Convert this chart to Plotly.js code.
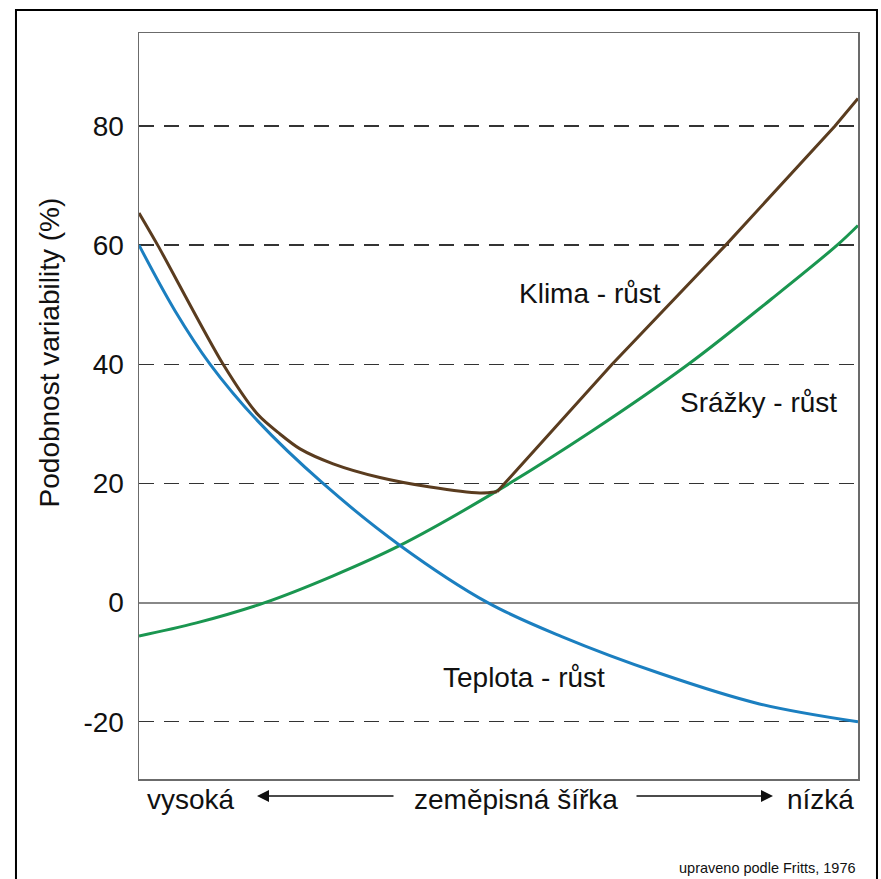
<!DOCTYPE html>
<html>
<head>
<meta charset="utf-8">
<script src="https://cdn.plot.ly/plotly-3.0.1.min.js"></script>
<style>
html,body{margin:0;padding:0;background:#fff;}
#chart{width:881px;height:879px;}
</style>
</head>
<body>
<div id="chart"></div>
<script>
// latitude position (0 = high latitude, 1 = low latitude)
var xTeplota = [0, 0.05, 0.099, 0.165, 0.256, 0.363, 0.485, 0.588, 0.725, 0.863, 1];
var teplota  = [60, 49.0, 40, 30.5, 20, 9.6, 0, -5.7, -11.9, -17.0, -20];

var xSrazky = [0, 0.08, 0.175, 0.27, 0.363, 0.498, 0.63, 0.764, 0.88, 0.971, 1];
var srazky  = [-5.6, -3.4, 0, 4.5, 9.6, 18.75, 28.8, 40, 51, 60, 63.3];

var xKlimaA = [0, 0.026, 0.117, 0.165, 0.196, 0.224, 0.27, 0.335, 0.405, 0.474, 0.498];
var klimaA  = [65.4, 60, 40, 31.6, 28.3, 25.8, 23.3, 21, 19.4, 18.4, 18.6];
var xKlimaB = [0.498, 0.658, 0.816, 0.968, 1];
var klimaB  = [18.6, 40, 60, 80, 84.6];

var yTicks = [-20, 0, 20, 40, 60, 80];
var yTickText = ['-20', '0', '20', '40', '60', '80'];

var labels = [
  {text: 'Klima - růst', x: 0.627, y: 51.8},
  {text: 'Srážky - růst', x: 0.861, y: 33.6},
  {text: 'Teplota - růst', x: 0.535, y: -12.5}
];

var cBlue = '#1b7fc0', cGreen = '#1a9650', cBrown = '#5a3c1f';
var font = 'Liberation Sans, Arial, sans-serif';
var fs = 28;

var traces = [
  {x: xSrazky, y: srazky, mode: 'lines', line: {color: cGreen, width: 3, shape: 'spline'}, name: 'Srážky - růst'},
  {x: xTeplota, y: teplota, mode: 'lines', line: {color: cBlue, width: 3, shape: 'spline'}, name: 'Teplota - růst'},
  {x: xKlimaA, y: klimaA, mode: 'lines', line: {color: cBrown, width: 3, shape: 'spline', smoothing: 0.8}, name: 'Klima - růst'},
  {x: xKlimaB, y: klimaB, mode: 'lines', line: {color: cBrown, width: 3}, name: 'Klima - růst'}
];

var annotations = labels.map(function(l){
  return {text: l.text, x: l.x, y: l.y, xref: 'x', yref: 'y', showarrow: false,
          font: {family: font, size: fs, color: '#111'}, xanchor: 'center', yanchor: 'middle'};
});

var rowY = -0.028;
annotations.push(
  {text: 'Podobnost variability (%)', xref: 'paper', yref: 'paper', x: -0.125, y: 0.572,
   textangle: -90, showarrow: false, font: {family: font, size: fs, color: '#111'}, xanchor: 'center', yanchor: 'middle'},
  {text: 'vysoká', xref: 'paper', yref: 'paper', x: (145-139)/719, y: rowY, showarrow: false,
   font: {family: font, size: fs, color: '#111'}, xanchor: 'left', yanchor: 'middle'},
  {text: 'zeměpisná šířka', xref: 'paper', yref: 'paper', x: (412-139)/719, y: rowY, showarrow: false,
   font: {family: font, size: fs, color: '#111'}, xanchor: 'left', yanchor: 'middle'},
  {text: 'nízká', xref: 'paper', yref: 'paper', x: (856-139)/719, y: rowY, showarrow: false,
   font: {family: font, size: fs, color: '#111'}, xanchor: 'right', yanchor: 'middle'},
  {text: '', xref: 'paper', yref: 'paper', x: (257-139)/719, y: -0.0228, ax: 138, ay: 0,
   showarrow: true, arrowhead: 2, arrowsize: 1.6, arrowwidth: 1.5, arrowcolor: '#111', standoff: 0},
  {text: '', xref: 'paper', yref: 'paper', x: (773-139)/719, y: -0.0228, ax: -138, ay: 0,
   showarrow: true, arrowhead: 2, arrowsize: 1.6, arrowwidth: 1.5, arrowcolor: '#111', standoff: 0},
  {text: 'upraveno podle Fritts, 1976', xref: 'paper', yref: 'paper', x: 1, y: (779-868)/746, showarrow: false,
   font: {family: font, size: 14.5, color: '#111'}, xanchor: 'right', yanchor: 'middle'}
);

var layout = {
  width: 881, height: 879,
  margin: {l: 139, r: 23, t: 33, b: 100},
  paper_bgcolor: '#fff', plot_bgcolor: '#fff',
  showlegend: false,
  font: {family: font, size: fs, color: '#111'},
  xaxis: {range: [0, 1], showticklabels: false, ticks: '', showgrid: false, zeroline: false,
          showline: true, mirror: true, linecolor: '#6b6b6b', linewidth: 1.5, fixedrange: true},
  yaxis: {range: [-29.6, 95.6], tickvals: yTicks, ticktext: yTickText,
          ticks: 'outside', ticklen: 8, tickcolor: 'rgba(0,0,0,0)',
          tickfont: {family: font, size: fs, color: '#111'},
          showgrid: true, gridcolor: '#333', gridwidth: 1.4, griddash: '15px,10px',
          zeroline: true, zerolinecolor: '#888', zerolinewidth: 2,
          showline: true, mirror: true, linecolor: '#6b6b6b', linewidth: 1.5, fixedrange: true},
  shapes: [
    {type: 'rect', xref: 'paper', yref: 'paper', x0: -0.1711, x1: 1.0264, y0: -0.15, y1: 1.0308,
     line: {color: '#000', width: 2}, fillcolor: 'rgba(0,0,0,0)', layer: 'below'}
  ],
  annotations: annotations
};

Plotly.newPlot('chart', traces, layout, {displayModeBar: false, staticPlot: true});
</script>
</body>
</html>
